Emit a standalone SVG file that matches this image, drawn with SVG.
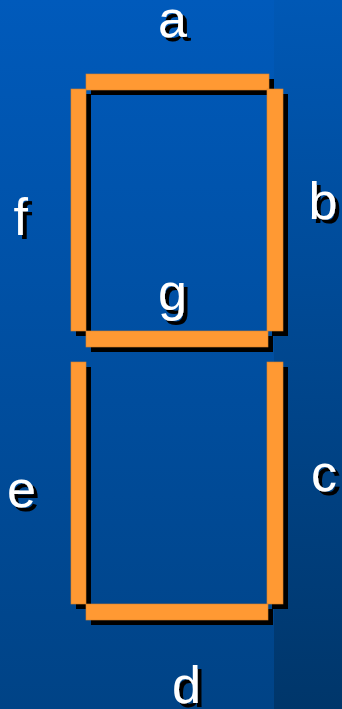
<svg xmlns="http://www.w3.org/2000/svg" width="342" height="709" viewBox="0 0 342 709">
<defs>
<linearGradient id="bgL" x1="0" y1="0" x2="0" y2="1">
<stop offset="0" stop-color="#005abb"/>
<stop offset="1" stop-color="#004386"/>
</linearGradient>
<linearGradient id="bgR" x1="0" y1="0" x2="0" y2="1">
<stop offset="0" stop-color="#0058b5"/>
<stop offset="1" stop-color="#00366a"/>
</linearGradient>
<filter id="ts" x="-20%" y="-20%" width="160%" height="160%">
<feOffset in="SourceAlpha" dx="4" dy="4" result="o"/>
<feFlood flood-color="#000"/>
<feComposite in2="o" operator="in" result="s"/>
<feMerge><feMergeNode in="s"/><feMergeNode in="SourceGraphic"/></feMerge>
</filter>
<style>
.seg{fill:#ff9933;stroke:#d9822b;stroke-width:0.6}
.sh{fill:#000}
.lbl{font-family:"Liberation Sans",Arial,sans-serif;font-size:52px;fill:#fff;filter:url(#ts)}
</style>
</defs>
<rect x="0" y="0" width="274" height="709" fill="url(#bgL)"/>
<rect x="274" y="0" width="68" height="709" fill="url(#bgR)"/>
<g id="connectors"></g>
<g id="seg-a"><rect class="sh" x="91" y="79" width="183" height="16"/><rect class="seg" x="86" y="74" width="183" height="16"/></g>
<g id="seg-f"><rect class="sh" x="76" y="94" width="15" height="242"/><rect class="seg" x="71" y="89" width="15" height="242"/></g>
<g id="seg-b"><rect class="sh" x="272" y="94" width="16" height="242"/><rect class="seg" x="267" y="89" width="16" height="242"/></g>
<g id="seg-g"><rect class="sh" x="91" y="336" width="182" height="16"/><rect class="seg" x="86" y="331" width="182" height="16"/></g>
<g id="seg-e"><rect class="sh" x="76" y="367" width="15" height="242"/><rect class="seg" x="71" y="362" width="15" height="242"/></g>
<g id="seg-c"><rect class="sh" x="272" y="367" width="16" height="242"/><rect class="seg" x="267" y="362" width="16" height="242"/></g>
<g id="seg-d"><rect class="sh" x="91" y="609" width="182" height="16"/><rect class="seg" x="86" y="604" width="182" height="16"/></g>
<g id="label-a"><text class="lbl" x="158" y="37">a</text></g>
<g id="label-b"><text class="lbl" x="308.5" y="219">b</text></g>
<g id="label-c"><text class="lbl" x="311" y="491">c</text></g>
<g id="label-d"><text class="lbl" x="172" y="703">d</text></g>
<g id="label-e"><text class="lbl" x="7" y="507">e</text></g>
<g id="label-f"><text class="lbl" x="13.5" y="235">f</text></g>
<g id="label-g"><text class="lbl" x="158" y="310">g</text></g>
</svg>
